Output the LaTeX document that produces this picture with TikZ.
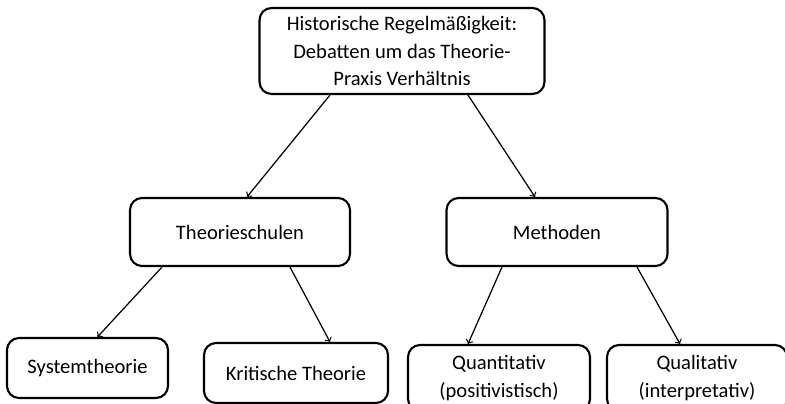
\documentclass[tikz,border=0pt]{standalone}
\usepackage{fontspec}
\setmainfont{Carlito}
\usetikzlibrary{calc}

\tikzset{
  kasten/.style={draw, rounded corners=0.24cm, line width=1.2pt, align=center,
    inner sep=0pt, font=\fontsize{11.7}{15.8}\selectfont},
  pfeil/.style={->, >=to, line width=0.7pt},
}

\begin{document}
\begin{tikzpicture}[x=0.02cm, y=-0.02cm]
	\useasboundingbox (0,0) rectangle (785,404);

	\coordinate(T)at(402,51);
	\coordinate(S)at(240,232);
	\coordinate(M)at(557,232);
	\coordinate(A)at(87.5,368);
	\coordinate(B)at(296,373);
	\coordinate(C)at(499,378);
	\coordinate(D)at(697,378);

	\node[kasten, minimum width=5.7cm, minimum height=1.72cm](top)at(T)
	  {Historische Regelmäßigkeit:\\Debatten um das Theorie-\\Praxis Verhältnis};
	\node[kasten, minimum width=4.4cm, minimum height=1.36cm](schulen)at(S){Theorieschulen};
	\node[kasten, minimum width=4.42cm, minimum height=1.36cm](methoden)at(M){Methoden};
	\node[kasten, minimum width=3.22cm, minimum height=1.2cm](system)at(A){Systemtheorie};
	\node[kasten, minimum width=3.68cm, minimum height=1.2cm](kritisch)at(B){Kritische Theorie};
	\node[kasten, minimum width=3.64cm, minimum height=1.32cm](quanti)at(C){Quantitativ\\(positivistisch)};
	\node[kasten, minimum width=3.6cm, minimum height=1.32cm](quali)at(D){Qualitativ\\(interpretativ)};

	\draw[pfeil]($(top.south)+(-72,0)$)--($(schulen.north)+(7,0)$);
	\draw[pfeil]($(top.south)+(66,0)$)--($(methoden.north)+(-22,0)$);

	\draw[pfeil]($(schulen.south)+(-78,0)$)--($(system.north)+(10,0)$);
	\draw[pfeil]($(schulen.south)+(50,0)$)--($(kritisch.north)+(34,0)$);

	\draw[pfeil]($(methoden.south)+(-55,0)$)--($(quanti.north)+(-31,0)$);
	\draw[pfeil]($(methoden.south)+(80,0)$)--($(quali.north)+(-17,0)$);
\end{tikzpicture}
\end{document}
